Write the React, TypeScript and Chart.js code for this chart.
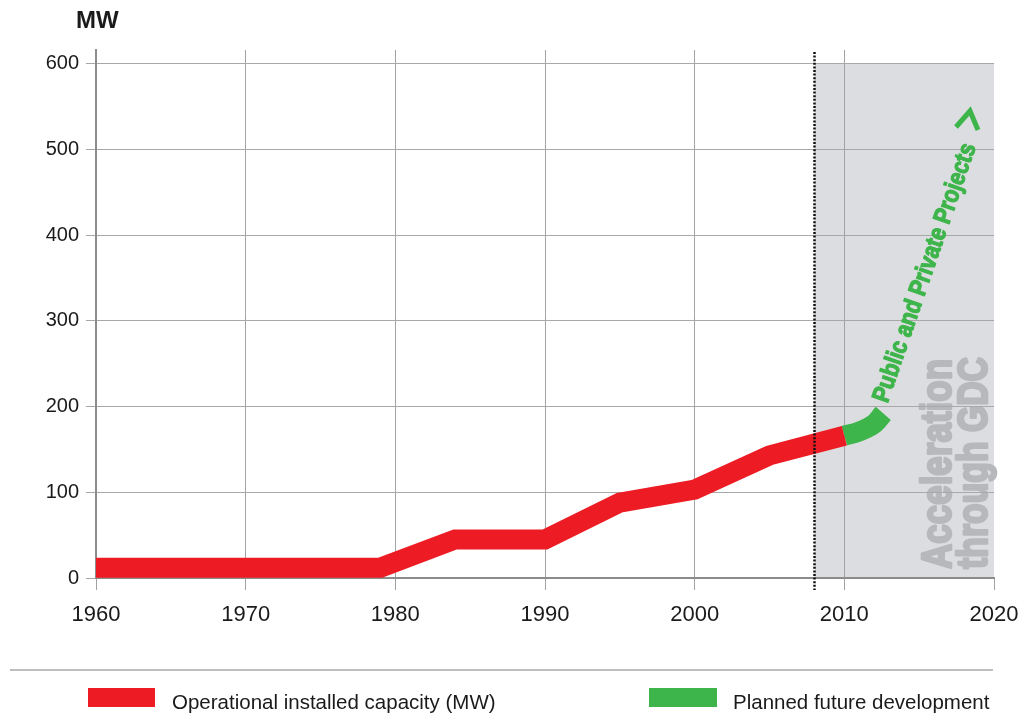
import React, { useEffect, useRef } from 'react';
import { Chart, registerables } from 'chart.js';

Chart.register(...registerables);

// ---- data ----
const operationalYears = [1960, 1979, 1984, 1990, 1995, 2000, 2005, 2010];
const operationalMW = [12, 12, 45, 45, 88, 103, 143, 166];
const plannedYears = [2010, 2011, 2012, 2012.6];
const plannedMW = [166, 171, 180, 192];
const xTickValues = [1960, 1970, 1980, 1990, 2000, 2010, 2020];
const yTickValues = [0, 100, 200, 300, 400, 500, 600];
const shadeFromYear = 2008;
const legendLabels = ['Operational installed capacity (MW)', 'Planned future development'];

const RED = '#ed1c24';
const GREEN = '#3db54a';
const FONT = '"Liberation Sans", Arial, Helvetica, sans-serif';

const extras = {
  id: 'extras',
  beforeDraw(chart: any) {
    const { ctx, scales } = chart;
    const x = scales.x, y = scales.y;
    const x0 = x.getPixelForValue(shadeFromYear);
    const x1 = x.getPixelForValue(xTickValues[xTickValues.length - 1]);
    const yt = y.getPixelForValue(yTickValues[yTickValues.length - 1]);
    const yb = y.getPixelForValue(0);
    ctx.save();
    ctx.fillStyle = '#dcdde0';
    ctx.fillRect(x0, yt, x1 - x0, yb - yt);

    // grey rotated text
    ctx.fillStyle = '#b7b8bb';
    ctx.strokeStyle = '#b7b8bb';
    ctx.lineJoin = 'round';
    ctx.font = `bold 43px ${FONT}`;
    ctx.textAlign = 'left';
    ctx.textBaseline = 'alphabetic';
    const lines = [
      { t: 'Acceleration', bx: 951, len: 210 },
      { t: 'through GDC', bx: 987, len: 212 },
    ];
    for (const l of lines) {
      ctx.save();
      ctx.translate(l.bx, yb - 9);
      ctx.rotate(-Math.PI / 2);
      const w = ctx.measureText(l.t).width;
      ctx.scale(l.len / w, 1);
      ctx.lineWidth = 2.6;
      ctx.strokeText(l.t, 0, 0);
      ctx.fillText(l.t, 0, 0);
      ctx.restore();
    }
    ctx.restore();
  },
  afterDatasetsDraw(chart: any) {
    const { ctx, scales } = chart;
    const x = scales.x, y = scales.y;
    ctx.save();
    // dotted vertical line
    const xd = Math.round(x.getPixelForValue(shadeFromYear)) + 0.5;
    ctx.strokeStyle = '#111';
    ctx.lineWidth = 2.5;
    ctx.setLineDash([2, 1.6]);
    ctx.beginPath();
    ctx.moveTo(xd, 52);
    ctx.lineTo(xd, y.getPixelForValue(0) + 12);
    ctx.stroke();
    ctx.setLineDash([]);

    // green rotated label
    const ang = (-71 * Math.PI) / 180;
    ctx.save();
    ctx.translate(x.getPixelForValue(2015.4), y.getPixelForValue(356));
    ctx.rotate(ang);
    ctx.font = `bold 25px ${FONT}`;
    const label = 'Public and Private Projects';
    const w = ctx.measureText(label).width;
    ctx.scale(272 / w, 1);
    ctx.fillStyle = GREEN;
    ctx.strokeStyle = GREEN;
    ctx.lineWidth = 1.2;
    ctx.lineJoin = 'round';
    ctx.textAlign = 'center';
    ctx.textBaseline = 'middle';
    ctx.strokeText(label, 0, 0);
    ctx.fillText(label, 0, 0);
    ctx.restore();

    // chevron
    ctx.strokeStyle = GREEN;
    ctx.lineWidth = 5;
    ctx.lineJoin = 'miter';
    ctx.beginPath();
    ctx.moveTo(956, 127);
    ctx.lineTo(970, 111);
    ctx.lineTo(978, 130);
    ctx.stroke();

    // MW title
    ctx.fillStyle = '#1a1a1a';
    ctx.font = `bold 24px ${FONT}`;
    ctx.textAlign = 'left';
    ctx.textBaseline = 'alphabetic';
    ctx.fillText('MW', 76, 28);

    // legend separator
    ctx.strokeStyle = '#a8a8a8';
    ctx.lineWidth = 1.5;
    ctx.beginPath();
    ctx.moveTo(10, 670);
    ctx.lineTo(993, 670);
    ctx.stroke();

    // legend items
    ctx.fillStyle = RED;
    ctx.fillRect(88, 688, 67, 19);
    ctx.fillStyle = GREEN;
    ctx.fillRect(649, 688, 68, 19);
    ctx.fillStyle = '#1a1a1a';
    ctx.font = `20.5px ${FONT}`;
    ctx.textBaseline = 'middle';
    ctx.fillText(legendLabels[0], 172, 703);
    ctx.fillText(legendLabels[1], 733, 703);
    ctx.restore();
  },
};

export default function App() {
  const ref = useRef<HTMLCanvasElement | null>(null);
  useEffect(() => {
    if (!ref.current) return;
    const chart = new Chart(ref.current, {
      type: 'line',
      data: {
        datasets: [
          {
            label: legendLabels[0],
            data: operationalYears.map((yr, i) => ({ x: yr, y: operationalMW[i] })),
            borderColor: RED,
            borderWidth: 20,
            pointRadius: 0,
            tension: 0,
            borderJoinStyle: 'miter',
            borderCapStyle: 'butt',
            clip: false as any,
          },
          {
            label: legendLabels[1],
            data: plannedYears.map((yr, i) => ({ x: yr, y: plannedMW[i] })),
            borderColor: GREEN,
            borderWidth: 20,
            pointRadius: 0,
            tension: 0.4,
            borderCapStyle: 'butt',
            clip: false as any,
          },
        ],
      },
      options: {
        animation: false,
        responsive: false,
        events: [],
        layout: { padding: { left: 0, top: 50, right: 28, bottom: 0 } },
        plugins: { legend: { display: false }, tooltip: { enabled: false } },
        scales: {
          x: {
            type: 'linear',
            min: xTickValues[0],
            max: xTickValues[xTickValues.length - 1],
            afterFit: (s: any) => { s.height = 137; s.paddingLeft = 0; s.paddingRight = 0; },
            afterBuildTicks: (s: any) => { s.ticks = xTickValues.map((v) => ({ value: v })); },
            ticks: {
              callback: (v: any) => String(v),
              font: { size: 22, family: FONT },
              color: '#1a1a1a',
              padding: 12,
              maxRotation: 0,
            },
            grid: {
              color: (c: any) => (c.tick && c.tick.value === 2020 ? 'rgba(0,0,0,0)' : '#a3a3a3'),
              tickColor: '#a3a3a3',
              tickLength: 12,
              lineWidth: 1,
            },
            border: { display: true, color: '#8c8c8c', width: 2 },
          },
          y: {
            type: 'linear',
            min: 0,
            max: 616,
            afterFit: (s: any) => { s.width = 96; s.paddingTop = 0; s.paddingBottom = 0; },
            afterBuildTicks: (s: any) => { s.ticks = yTickValues.map((v) => ({ value: v })); },
            ticks: {
              font: { size: 20, family: FONT },
              color: '#1a1a1a',
              padding: 7,
            },
            grid: { color: '#a8a8a8', tickColor: '#a8a8a8', tickLength: 10, lineWidth: 1 },
            border: { display: true, color: '#8c8c8c', width: 2 },
          },
        },
      },
      plugins: [extras],
    });
    return () => chart.destroy();
  }, []);
  return (
    <div style={{ position: 'absolute', left: 0, top: 0, width: 1022, height: 715, background: '#fff' }}>
      <canvas ref={ref} width={1022} height={715} style={{ display: 'block' }} />
    </div>
  );
}
